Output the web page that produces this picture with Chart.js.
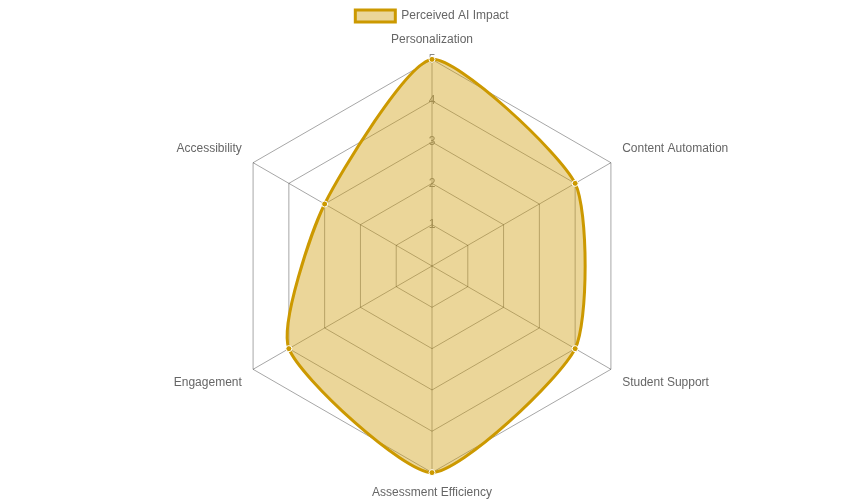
<!DOCTYPE html>
<html>
<head>
<meta charset="utf-8">
<script src="https://cdn.jsdelivr.net/npm/chart.js@4.4.1/dist/chart.umd.min.js"></script>
<style>
  html, body { margin: 0; padding: 0; background: #fff; }
  #wrap { width: 864px; height: 500px; }
</style>
</head>
<body>
<div id="wrap"><canvas id="radar"></canvas></div>
<script>
// categories and values
const labels = ['Personalization', 'Content Automation', 'Student Support', 'Assessment Efficiency', 'Engagement', 'Accessibility'];
const impactValues = [5, 4, 4, 5, 4, 3];
const scaleMin = 0;
const scaleMax = 5;
const scaleStep = 1;

Chart.defaults.font.family = '"Liberation Sans", Arial, sans-serif';
Chart.defaults.font.size = 12;
Chart.defaults.color = '#666';

new Chart(document.getElementById('radar').getContext('2d'), {
    type: 'radar',
    data: {
        labels: labels,
        datasets: [{
            label: 'Perceived AI Impact',
            data: impactValues,
            backgroundColor: 'rgba(204, 153, 0, 0.4)',
            borderColor: 'rgb(204, 153, 0)',
            borderWidth: 3,
            tension: 0.2,
            pointRadius: 3,
            pointBackgroundColor: 'rgb(204, 153, 0)',
            pointBorderColor: '#fff',
            pointBorderWidth: 1
        }]
    },
    options: {
        responsive: true,
        maintainAspectRatio: false,
        animation: false,
        plugins: {
            legend: { position: 'top' }
        },
        scales: {
            r: {
                min: scaleMin,
                max: scaleMax,
                beginAtZero: true,
                ticks: {
                    stepSize: scaleStep,
                    showLabelBackdrop: false,
                    color: '#888'
                },
                grid: { color: 'rgba(0, 0, 0, 0.35)' },
                angleLines: { color: 'rgba(0, 0, 0, 0.35)' },
                pointLabels: { font: { size: 12 }, color: '#666' }
            }
        }
    }
});
</script>
</body>
</html>
